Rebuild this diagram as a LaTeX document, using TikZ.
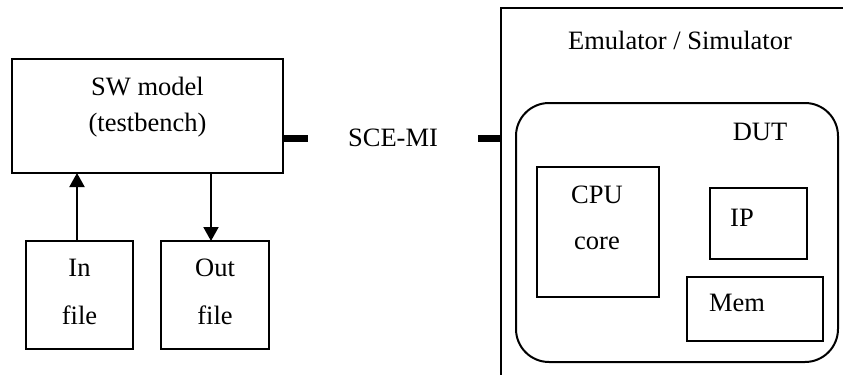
\documentclass[tikz,border=0pt]{standalone}
\usepackage{fontspec}
\setmainfont{Liberation Serif}
\usepackage{tikz}
\usetikzlibrary{positioning,arrows.meta}

\begin{document}
\begin{tikzpicture}[x=0.5pt, y=-0.5pt,
box/.style={draw, line width=1pt, minimum width=#1, outer sep=0, inner sep=0},
txt/.style={font=\fontsize{13.25}{16}\selectfont, inner sep=0},
stub/.style={line width=3.5pt},
arr/.style={line width=1pt, -{Triangle[length=7pt, width=7.5pt]}}
]
\useasboundingbox (0,0) rectangle (843,375);
\node[box=135.5pt, minimum height=57pt] (sw) at (147.5,116) {};
\node[txt] at (147.5,87) {SW model};
\node[txt] at (147.5,125) {(testbench)};
\node[box=53.5pt, minimum height=54pt] (in) at (79.5,295) {};
\node[txt] at (79.5,268) {In};
\node[txt] at (79.5,315) {file};
\node[box=54pt, minimum height=54pt] (out) at (215,295) {};
\node[txt] at (215,268) {Out};
\node[txt] at (215,315) {file};
\draw[arr] ([xshift=-1.25pt]in.north) -- ([xshift=-1.25pt]in.north |- sw.south);
\draw[arr] ([xshift=-2pt]out.north |- sw.south) -- ([xshift=-2pt]out.north);
\draw[line width=1pt] (501,375) -- (501,8) -- (843,8);
\node[txt] at (680,40) {Emulator / Simulator};
\coordinate (emu) at (501,138);
\node[txt] (sce) at (393,138) {SCE-MI};
\draw[stub] (sw.east |- emu) -- ++(25,0);
\draw[stub] (emu) -- ++(-23,0);
\node[box=161pt, minimum height=129.5pt, rounded corners=16.5pt] (dut) at (677,232.5) {};
\node[txt] at (760,132) {DUT};
\node[box=61pt, minimum height=65pt] (cpu) at (598,232) {};
\node[txt] at (597,195) {CPU};
\node[txt] at (597,243) {core};
\node[box=48.5pt, minimum height=35.5pt] (ip) at (758.5,223.5) {};
\node[txt] at (742,218) {IP};
\node[box=68pt, minimum height=32pt] (mem) at (755,309) {};
\node[txt] at (737,303) {Mem};
\end{tikzpicture}
\end{document}
